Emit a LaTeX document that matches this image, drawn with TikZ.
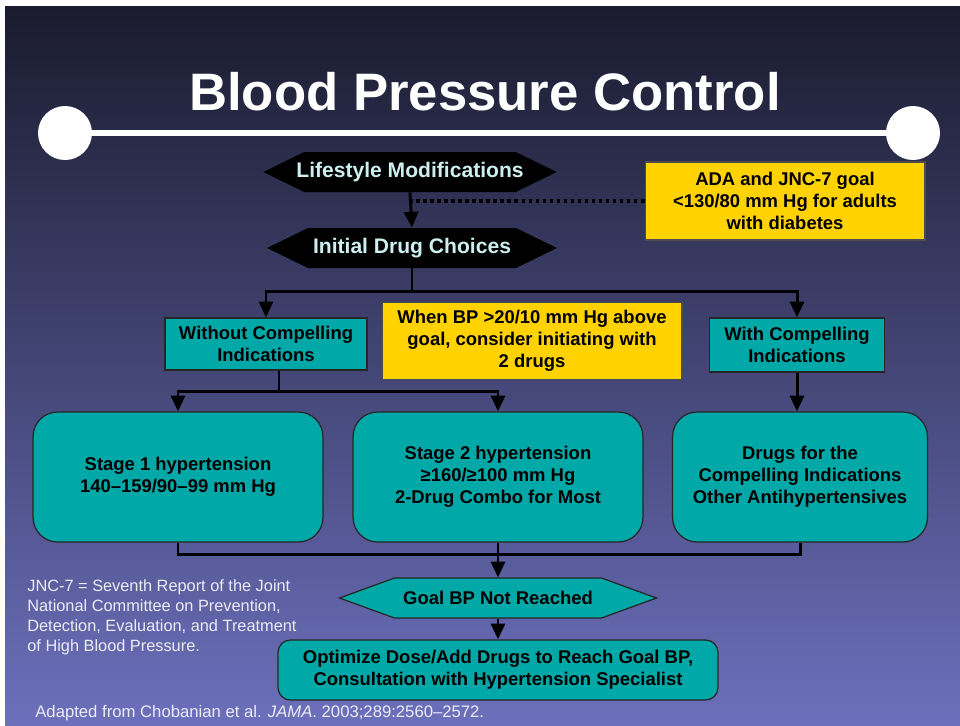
\documentclass[tikz,border=0pt]{standalone}
\usepackage{fontspec}
\setmainfont{Liberation Sans}
\usetikzlibrary{shapes.symbols, arrows.meta, positioning, calc}
\definecolor{slidetop}{HTML}{1A1B2E}
\definecolor{slidebot}{HTML}{6C70BC}
\definecolor{tealbox}{HTML}{00A8A8}
\definecolor{goldbox}{HTML}{FFD200}
\definecolor{hexfont}{HTML}{CDEFEF}
\definecolor{notefont}{HTML}{ECECF6}

\tikzset{
  boxfont/.style={font=\fontsize{10.5}{12.6}\selectfont\bfseries},
  tealnode/.style={draw=black!85, line width=0.7pt, fill=tealbox, boxfont, align=center, inner sep=0pt},
  goldnode/.style={draw=black!70, line width=0.6pt, fill=goldbox, boxfont, align=center, inner sep=0pt},
  hexnode/.style={shape=signal, signal to=west and east, signal pointer angle=52, fill=black,
    text=hexfont, font=\fontsize{12}{14}\selectfont\bfseries, minimum height=0.8cm, inner sep=0pt},
  wire/.style={line width=1.7pt, black},
  arr/.style={wire, -{Triangle[length=9pt,width=8pt]}}
}

\begin{document}
\begin{tikzpicture}[x=0.02cm, y=-0.02cm]
  \useasboundingbox (0,0) rectangle (960,725);
  % ===== slide background =====
  \fill[white] (0,0) rectangle (960,725);
  \shade[top color=slidetop, bottom color=slidebot] (5,6) rectangle (960,725);

  % ===== title =====
  \node[text=white, font=\fontsize{30}{34}\selectfont\bfseries] (title) at (485,92) {Blood Pressure Control};
  \draw[white, line width=3.4pt] (65,133) -- (913,133);
  \fill[white] (65,133) circle (27);
  \fill[white] (913,133) circle (27);

  % ===== top of the chart =====
  \node[hexnode, inner xsep=-4.5pt, minimum width=5.8cm] (life) at (410,172) {Lifestyle Modifications};
  \node[hexnode, minimum width=5.8cm] (init) at (412,248) {Initial Drug Choices};
  \node[goldnode, minimum width=5.6cm, minimum height=1.56cm] (ada) at (785,201)
    {ADA and JNC-7 goal\\ <130/80 mm Hg for adults\\ with diabetes};
  \draw[arr] (life.south) -- (init.north);
  \draw[black, line width=2pt, dotted] (ada.west) -- (ada.west -| life.south);

  % ===== indications =====
  \node[tealnode, minimum width=4.04cm, minimum height=1.04cm] (without) at (266,344)
    {Without Compelling\\ Indications};
  \node[goldnode, minimum width=6cm, minimum height=1.54cm] (twodrug) at (532,341)
    {When BP >20/10 mm Hg above\\ goal, consider initiating with\\ 2 drugs};
  \node[tealnode, minimum width=3.5cm, minimum height=1.08cm] (withci) at (797,345)
    {With Compelling\\ Indications};
  \coordinate (split1) at (412,291);
  \draw[wire] (init.south) -- (split1);
  \draw[arr] (split1) -| (without.north);
  \draw[arr] (split1) -| (withci.north);

  % ===== stages =====
  \node[tealnode, rounded corners=14pt, minimum width=5.8cm, minimum height=2.6cm] (stage1) at (178,477)
    {Stage 1 hypertension\\ 140–159/90–99 mm Hg};
  \node[tealnode, rounded corners=14pt, minimum width=5.8cm, minimum height=2.6cm] (stage2) at (498,477)
    {Stage 2 hypertension\\ ≥160/≥100 mm Hg\\ 2-Drug Combo for Most};
  \node[tealnode, rounded corners=14pt, minimum width=5.1cm, minimum height=2.6cm] (drugs) at (800,477)
    {Drugs for the\\ Compelling Indications\\ Other Antihypertensives};
  \coordinate (split2) at (279,391);
  \draw[wire] (split2 |- without.south) -- (split2);
  \draw[arr] (split2) -| (stage1.north);
  \draw[arr] (split2) -| (stage2.north);
  \draw[arr] (withci.south) -- (withci.south |- drugs.north);

  % ===== goal not reached =====
  \node[hexnode, fill=tealbox, draw=black!85, line width=0.7pt, text=black, signal pointer angle=40,
    font=\fontsize{10.5}{12.6}\selectfont\bfseries, minimum width=6.34cm] (goal) at (498,598) {Goal BP Not Reached};
  \node[tealnode, rounded corners=7pt, minimum width=8.8cm, minimum height=1.2cm] (optim) at (498,670)
    {Optimize Dose/Add Drugs to Reach Goal BP,\\ Consultation with Hypertension Specialist};
  \coordinate (merge) at (498,554);
  \draw[wire] (stage1.south) |- (merge) -| (drugs.south);
  \draw[arr] (stage2.south) -- (goal.north);
  \draw[arr] (goal.south) -- (optim.north);

  % ===== notes =====
  \node[anchor=north west, align=left, text=notefont, inner sep=0pt,
    font=\fontsize{9.3}{11.4}\selectfont] (abbrev) at (27,579)
    {JNC-7 = Seventh Report of the Joint\\ National Committee on Prevention,\\
     Detection, Evaluation, and Treatment\\ of High Blood Pressure.};
  \node[anchor=west, text=notefont, inner sep=0pt, font=\fontsize{9.5}{11.4}\selectfont] (source) at (35,713)
    {Adapted from Chobanian et al. \textit{JAMA}. 2003;289:2560–2572.};
\end{tikzpicture}
\end{document}
